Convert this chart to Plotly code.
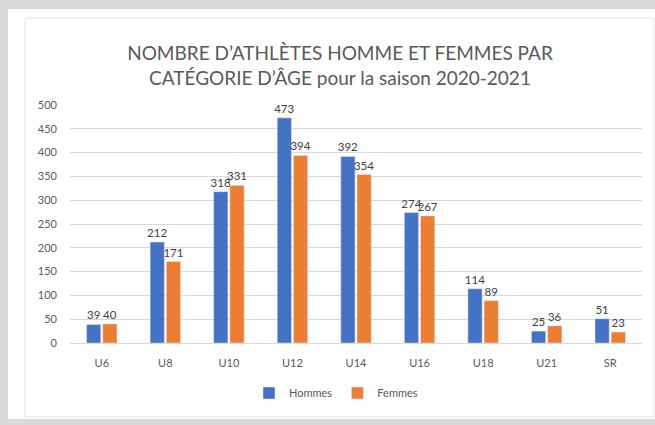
import plotly.graph_objects as go

categories = ["U6", "U8", "U10", "U12", "U14", "U16", "U18", "U21", "SR"]
hommes = [39, 212, 318, 473, 392, 274, 114, 25, 51]
femmes = [40, 171, 331, 394, 354, 267, 89, 36, 23]
series_names = ["Hommes", "Femmes"]
y_ticks = [0, 50, 100, 150, 200, 250, 300, 350, 400, 450, 500]
title_text = "NOMBRE D’ATHLÈTES HOMME ET FEMMES PAR<br>CATÉGORIE D’ÂGE pour la saison 2020-2021"

W, H = 655, 425
L, R, T, B = 70, 13, 105, 82
pw, ph = W - L - R, H - T - B

def px_x(x):
    return (x - L) / pw

def px_y(y):
    return (H - B - y) / ph

FONT = "Lato, 'Open Sans', sans-serif"
GRAY = "#d9d9d9"

fig = go.Figure()
fig.add_bar(x=categories, y=hommes, name=series_names[0], marker_color="#4472C4",
            text=hommes, textposition="outside", cliponaxis=False, constraintext="none",
            textfont=dict(size=11.5, color="#404040"))
fig.add_bar(x=categories, y=femmes, name=series_names[1], marker_color="#ED7D31",
            text=femmes, textposition="outside", cliponaxis=False, constraintext="none",
            textfont=dict(size=11.5, color="#404040"))

def band(x0, x1, y0, y1):
    return dict(type="rect", xref="paper", yref="paper", layer="below",
                x0=px_x(x0), x1=px_x(x1), y0=px_y(y1), y1=px_y(y0),
                fillcolor=GRAY, line=dict(width=0))

shapes = [
    band(0, W, 0, 9),
    band(0, 8, 0, H),
    band(0, W, 419, H),
    dict(type="rect", xref="paper", yref="paper", layer="below",
         x0=px_x(25), x1=px_x(W - 1), y0=px_y(417), y1=px_y(18),
         fillcolor="rgba(0,0,0,0)", line=dict(width=1, color="#e3e3e3")),
]

fig.update_layout(
    width=W, height=H,
    margin=dict(l=L, r=R, t=T, b=B, pad=0),
    paper_bgcolor="white",
    plot_bgcolor="white",
    font=dict(family=FONT, color="#595959", size=11),
    title=dict(text=title_text, xref="container", x=340 / W, xanchor="center",
               yref="container", y=1 - 60 / H, yanchor="middle",
               font=dict(size=19, color="#595959", family=FONT)),
    barmode="group",
    bargap=0.49,
    bargroupgap=0.12,
    showlegend=True,
    legend=dict(orientation="h", x=px_x(336), xanchor="center",
                y=px_y(393), yanchor="middle", bgcolor="rgba(0,0,0,0)",
                font=dict(size=11, color="#595959"),
                itemwidth=30, traceorder="normal"),
    shapes=shapes,
    xaxis=dict(showgrid=False, showline=True, linecolor=GRAY, linewidth=1,
               ticks="", ticklabelstandoff=10, tickfont=dict(size=11, color="#595959")),
    yaxis=dict(range=[0, 500], tickvals=y_ticks, showgrid=True, gridcolor=GRAY,
               gridwidth=1, zeroline=False, showline=False, ticks="",
               ticklabelstandoff=12, tickfont=dict(size=11, color="#595959")),
)

fig.write_html(
    "out.html",
    config={"displayModeBar": False},
    post_script=("document.documentElement.style.overflow='hidden';"
                 "document.body.style.margin='0';document.body.style.overflow='hidden';"),
)
